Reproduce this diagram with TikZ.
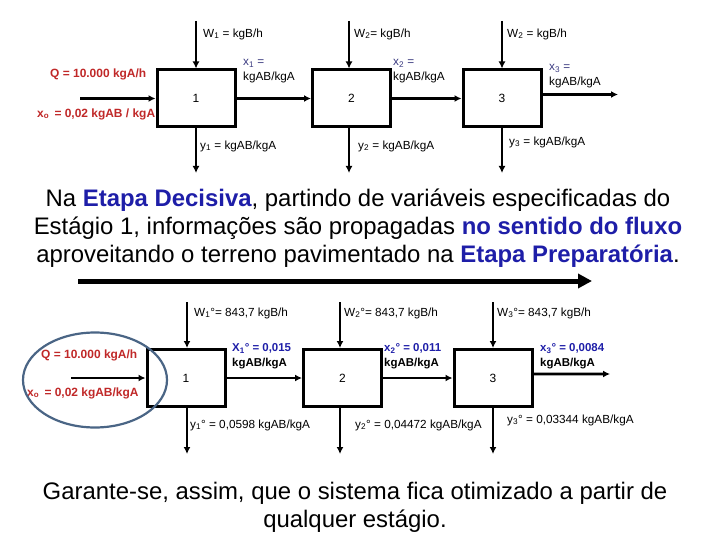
\documentclass[tikz,border=0pt]{standalone}
\usepackage{fontspec}
\setmainfont{Liberation Sans}
\usetikzlibrary{arrows.meta, positioning}
\definecolor{qred}{HTML}{C02828}
\definecolor{xblue}{HTML}{1E1EA8}
\definecolor{xslate}{HTML}{3A3A80}
\definecolor{ringblue}{HTML}{4A6585}
\begin{document}
\begin{tikzpicture}[x=1bp, y=-1bp,
  stage/.style={draw, line width=3bp, minimum width=78bp, minimum height=57bp, inner sep=0pt, font=\fontsize{12}{13}\selectfont},
  flow/.style={line width=2.6bp, -{Latex[length=7bp, width=7bp]}},
  lbl/.style={anchor=west, inner sep=0pt, align=left, font=\fontsize{11.8}{15}\selectfont},
  feed/.style={lbl, text=qred, font=\fontsize{12}{13}\selectfont\bfseries},
  opt/.style={lbl, font=\fontsize{11.5}{15}\selectfont\bfseries},
  para/.style={align=center, inner sep=0pt, font=\fontsize{24}{28}\selectfont}
]
\useasboundingbox (0,0) rectangle (720,540);

% upper diagram
\node[stage] (s1) at (196,98.5) {1};
\node[stage] (s2) at (351.5,98.5) {2};
\node[stage] (s3) at (502,98.5) {3};
\coordinate (in1) at (80,98.5);
\coordinate (out3) at (618,94.5);
\coordinate (w1) at (196,21);
\coordinate (w2) at (349,21);
\coordinate (w3) at (502,21);
\coordinate (y1) at (196,173);
\coordinate (y2) at (349,173);
\coordinate (y3) at (502,173);

\draw[flow] (in1) -- (s1.west);
\draw[flow] (s1) -- (s2);
\draw[flow] (s2) -- (s3);
\draw[flow] ([yshift=4bp]s3.east) -- (out3);
\draw[flow] (w1) -- (w1 |- s1.north);
\draw[flow] (w2) -- (w2 |- s2.north);
\draw[flow] (w3) -- (w3 |- s3.north);
\draw[flow] (y1 |- s1.south) -- (y1);
\draw[flow] (y2 |- s2.south) -- (y2);
\draw[flow] (y3 |- s3.south) -- (y3);

\node[lbl] (lw1) at (203,34) {W\textsubscript{1} = kgB/h};
\node[lbl] (lw2) at (354,34) {W\textsubscript{2}= kgB/h};
\node[lbl] (lw3) at (507,34) {W\textsubscript{2} = kgB/h};
\node[lbl] (lx1) at (243,71.5) {\textcolor{xslate}{x\textsubscript{1} =}\\kgAB/kgA};
\node[lbl] (lx2) at (393,71) {\textcolor{xslate}{x\textsubscript{2} =}\\kgAB/kgA};
\node[lbl] (lx3) at (549,76.5) {\textcolor{xslate}{x\textsubscript{3} =}\\kgAB/kgA};
\node[lbl] (ly1) at (200,146) {y\textsubscript{1} = kgAB/kgA};
\node[lbl] (ly2) at (358,146) {y\textsubscript{2} = kgAB/kgA};
\node[lbl] (ly3) at (509,142) {y\textsubscript{3} = kgAB/kgA};
\node[feed] (lq) at (50,74) {Q = 10.000 kgA/h};
\node[feed] (lx0) at (37,114) {x\textsubscript{o}\, = 0,02 kgAB / kgA};

% text
\node[para] (txt1) at (358,228) {Na \textcolor{xblue}{\bfseries Etapa Decisiva}, partindo de variáveis especificadas do\\
  Estágio 1, informações são propagadas \textcolor{xblue}{\bfseries no sentido do fluxo}\\
  aproveitando o terreno pavimentado na \textcolor{xblue}{\bfseries Etapa Preparatória}.};

% lower diagram
\coordinate (fa) at (78,281);
\coordinate (fb) at (592,281);
\draw[line width=5bp, -{Triangle[length=14bp, width=14bp]}] (fa) -- (fb);

\node[stage] (t1) at (186,378) {1};
\node[stage] (t2) at (342.5,378) {2};
\node[stage] (t3) at (493,378) {3};
\coordinate (in2) at (71,378);
\coordinate (out6) at (610,374);
\coordinate (v1) at (187,302);
\coordinate (v2) at (340,302);
\coordinate (v3) at (493,302);
\coordinate (z1) at (187,454);
\coordinate (z2) at (340,454);
\coordinate (z3) at (493,454);

\draw[flow] (in2) -- (t1.west);
\draw[flow] (t1) -- (t2);
\draw[flow] (t2) -- (t3);
\draw[flow] ([yshift=4bp]t3.east) -- (out6);
\draw[flow] (v1) -- (v1 |- t1.north);
\draw[flow] (v2) -- (v2 |- t2.north);
\draw[flow] (v3) -- (v3 |- t3.north);
\draw[flow] (z1 |- t1.south) -- (z1);
\draw[flow] (z2 |- t2.south) -- (z2);
\draw[flow] (z3 |- t3.south) -- (z3);

\node[lbl] (lv1) at (194,313) {W\textsubscript{1}°= 843,7 kgB/h};
\node[lbl] (lv2) at (344,313) {W\textsubscript{2}°= 843,7 kgB/h};
\node[lbl] (lv3) at (497,313) {W\textsubscript{3}°= 843,7 kgB/h};
\node[opt] (lo1) at (232,356.5) {\textcolor{xblue}{X\textsubscript{1}° = 0,015}\\kgAB/kgA};
\node[opt] (lo2) at (384,356.5) {\textcolor{xblue}{x\textsubscript{2}° = 0,011}\\kgAB/kgA};
\node[opt] (lo3) at (540,356) {\textcolor{xblue}{x\textsubscript{3}° = 0,0084}\\kgAB/kgA};
\node[lbl] (lz1) at (190,425) {y\textsubscript{1}° = 0,0598 kgAB/kgA};
\node[lbl] (lz2) at (355,425) {y\textsubscript{2}° = 0,04472 kgAB/kgA};
\node[lbl] (lz3) at (507,420) {y\textsubscript{3}° = 0,03344 kgAB/kgA};
\node[feed] (lq2) at (41,355) {Q = 10.000 kgA/h};
\node[feed] (lx02) at (27,393) {x\textsubscript{o}\, = 0,02 kgAB/kgA};
\draw[ringblue, line width=2.2bp] (95,380) ellipse [x radius=72, y radius=47.5];

\node[para] (txt2) at (355,507) {Garante-se, assim, que o sistema fica otimizado a partir de\\
  qualquer estágio.};
\end{tikzpicture}
\end{document}
